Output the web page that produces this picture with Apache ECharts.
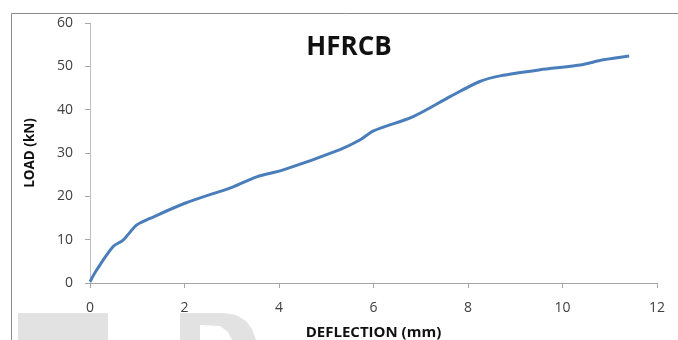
<!DOCTYPE html>
<html><head><meta charset="utf-8">
<script src="https://cdn.jsdelivr.net/npm/echarts@6/dist/echarts.min.js"></script>
<style>html,body{margin:0;padding:0;background:#fff}#c{width:678px;height:340px}</style>
</head><body><div id="c"></div>
<script>
const deflection = [0, 0.14, 0.49, 0.7, 0.99, 1.27, 2.01, 3.03, 3.53, 4.09, 5.29, 5.71, 6.0, 6.84, 7.62, 8.25, 8.68, 9.52, 10.37, 10.86, 11.41];
const load =       [0.3, 3.0, 8.4, 9.9, 13.4, 14.9, 18.4, 22.2, 24.5, 26.1, 30.8, 33.0, 35.1, 38.4, 43.0, 46.5, 47.8, 49.2, 50.3, 51.5, 52.4];
const xTicks = [0, 2, 4, 6, 8, 10, 12];
const yTicks = [0, 10, 20, 30, 40, 50, 60];
const titleText = 'HFRCB';
const xName = 'DEFLECTION (mm)';
const yName = 'LOAD (kN)';

const chart = echarts.init(document.getElementById('c'), null, {renderer: 'canvas'});
const font = '"Open Sans", "DejaVu Sans", sans-serif';
chart.setOption({
  animation: false,
  backgroundColor: '#fff',
  title: {text: titleText, left: 344, top: 30, textAlign: 'center',
    textStyle: {fontFamily: font, fontWeight: 'bold', fontSize: 26, color: '#111'}},
  grid: {left: 90, right: 21, top: 23, bottom: 57, containLabel: false, outerBoundsMode: 'none'},
  xAxis: {type: 'value', min: xTicks[0], max: xTicks[xTicks.length-1], interval: 2,
    name: xName, nameLocation: 'middle', nameGap: 42,
    nameTextStyle: {fontFamily: font, fontWeight: 'bold', fontSize: 15, color: '#111'},
    axisLine: {lineStyle: {color: '#a6a6a6', width: 1}},
    axisTick: {show: true, length: 5, lineStyle: {color: '#a6a6a6'}},
    axisLabel: {fontFamily: font, fontSize: 14, color: '#404040', margin: 18},
    splitLine: {show: false}},
  yAxis: {type: 'value', min: yTicks[0], max: yTicks[yTicks.length-1], interval: 10,
    name: yName, nameLocation: 'middle', nameGap: 53, nameRotate: 90,
    nameTextStyle: {fontFamily: font, fontWeight: 'bold', fontSize: 13.5, color: '#111'},
    axisLine: {show: true, lineStyle: {color: '#bfbfbf', width: 1}},
    axisTick: {show: true, length: 5, lineStyle: {color: '#a6a6a6'}},
    axisLabel: {fontFamily: font, fontSize: 14, color: '#404040', margin: 17},
    splitLine: {show: false}},
  series: [{type: 'line', data: deflection.map((d, i) => [d, load[i]]),
    smooth: 0.3, showSymbol: false, lineStyle: {color: '#4a7ebb', width: 3}}],
  graphic: [
    {type: 'line', shape: {x1: 11.5, y1: 13.5, x2: 678, y2: 13.5}, style: {stroke: '#8c8c8c', lineWidth: 1}, z: 10},
    {type: 'line', shape: {x1: 11.5, y1: 13.5, x2: 11.5, y2: 340}, style: {stroke: '#8c8c8c', lineWidth: 1}, z: 10},
    {type: 'rect', shape: {x: 18, y: 313, width: 90, height: 30}, style: {fill: '#e2e2e2'}, z: -1},
    {type: 'polygon', shape: {points: [[180,313],[224,313],[236,315],[246,321],[252,329],[256,340],[232,340],[228,332],[220,326],[200,325],[200,340],[180,340]]}, style: {fill: '#e2e2e2'}, z: -1}
  ]
});
</script></body></html>
